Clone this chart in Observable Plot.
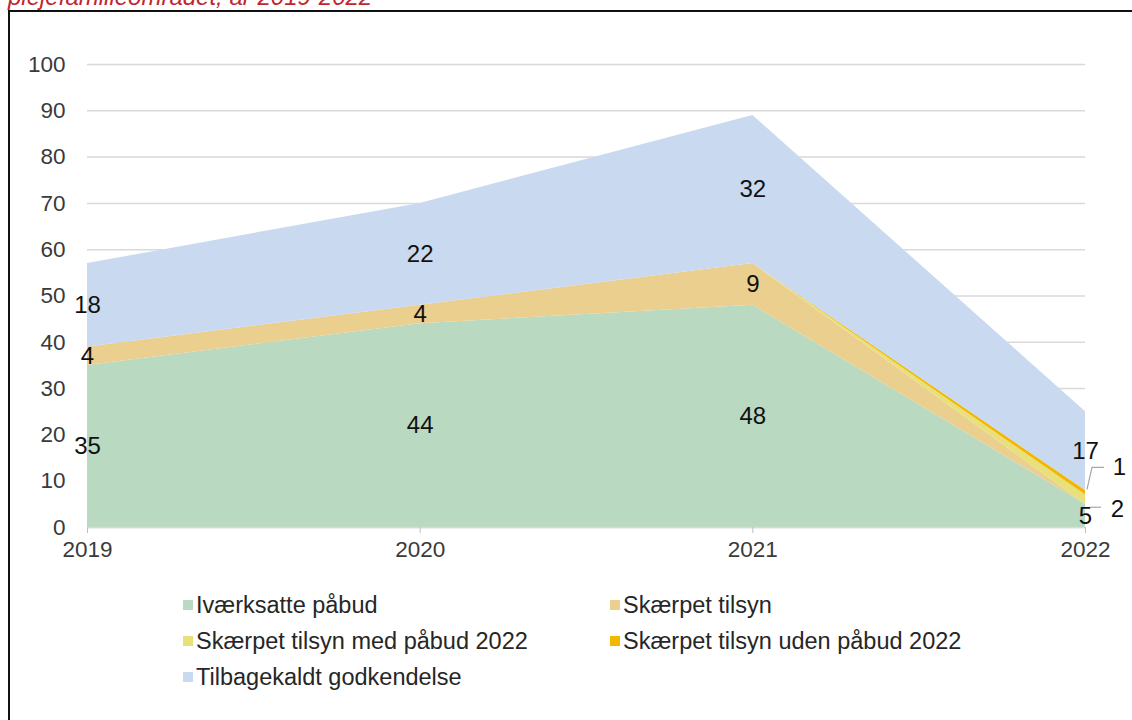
<!DOCTYPE html>
<html>
<head>
<meta charset="utf-8">
<script src="https://cdn.jsdelivr.net/npm/d3@7"></script>
<script src="https://cdn.jsdelivr.net/npm/@observablehq/plot@0.6"></script>
<style>
  html, body { margin: 0; padding: 0; background: #fff; }
  body { width: 1132px; height: 720px; position: relative; overflow: hidden; font-family: "Liberation Sans", Arial, sans-serif; }
  #title { position: absolute; left: 8px; top: -15px; color: #c0262d; font-style: italic; font-size: 24px; line-height: 24px; white-space: nowrap; }
  #chart { position: absolute; left: 0; top: 0; }
  #frame { position: absolute; left: 8px; top: 10px; width: 1140px; height: 730px; border: 2px solid #111; box-sizing: border-box; pointer-events: none; z-index: 5; }
  #legend { position: absolute; left: 183px; top: 587px; display: grid; grid-template-columns: 427px auto; grid-auto-rows: 36px; font-size: 23.5px; color: #262626; z-index: 3; }
  .item { display: flex; align-items: center; white-space: nowrap; }
  .sw { width: 10px; height: 10px; margin-right: 3px; flex: none; }
</style>
</head>
<body>
<div id="title">plejefamilieområdet, år 2019-2022</div>
<div id="chart"></div>
<div id="legend"></div>
<div id="frame"></div>
<script>
const years = [2019, 2020, 2021, 2022];
const seriesNames = [
  "Iværksatte påbud",
  "Skærpet tilsyn",
  "Skærpet tilsyn med påbud 2022",
  "Skærpet tilsyn uden påbud 2022",
  "Tilbagekaldt godkendelse"
];
const ivaerksattePaabud = [35, 44, 48, 5];
const skaerpetTilsyn = [4, 4, 9, 0];
const skaerpetMedPaabud = [0, 0, 0, 2];
const skaerpetUdenPaabud = [0, 0, 0, 1];
const tilbagekaldt = [18, 22, 32, 17];
const seriesColors = ["#bad9c1", "#eacf8e", "#e8e07a", "#f3b700", "#c9d9ef"];
const yTicks = [0, 10, 20, 30, 40, 50, 60, 70, 80, 90, 100];

const seriesValues = [ivaerksattePaabud, skaerpetTilsyn, skaerpetMedPaabud, skaerpetUdenPaabud, tilbagekaldt];
const data = seriesNames.flatMap((s, i) => years.map((yr, j) => ({series: s, year: yr, value: seriesValues[i][j]})));

const smallSeries = [seriesNames[2], seriesNames[3]];
const stackOpts = {x: "year", y: "value", z: "series", order: seriesNames};

// leader lines for the small 2022 labels, positioned through the scales
function leaders(index, scales) {
  const g = d3.create("svg:g").attr("fill", "none").attr("stroke", "#a6a6a6").attr("stroke-width", 1.2);
  const x0 = scales.x(2022);
  const udenMid = ivaerksattePaabud[3] + skaerpetTilsyn[3] + skaerpetMedPaabud[3] + skaerpetUdenPaabud[3] / 2;
  const medMid = ivaerksattePaabud[3] + skaerpetTilsyn[3] + skaerpetMedPaabud[3] / 2;
  const yu = scales.y(udenMid), ym = scales.y(medMid);
  g.append("path").attr("d", `M${x0 + 2},${yu - 3}L${x0 + 7},${yu - 25}L${x0 + 19},${yu - 25}`);
  g.append("path").attr("d", `M${x0 + 5},${ym + 8}L${x0 + 16},${ym + 8}`);
  return g.node();
}

const plot = Plot.plot({
  width: 1132,
  height: 580,
  marginLeft: 87,
  marginRight: 47,
  marginTop: 64,
  marginBottom: 53,
  style: {background: "transparent", fontFamily: "'Liberation Sans', Arial, sans-serif"},
  x: {type: "linear", domain: [2019, 2022]},
  y: {domain: [0, 100]},
  color: {domain: seriesNames, range: seriesColors},
  marks: [
    Plot.gridY(yTicks, {stroke: "#d9d9d9", strokeOpacity: 1, strokeWidth: 1.5}),
    Plot.areaY(data, {...stackOpts, fill: "series", curve: "linear"}),
    Plot.ruleY([0], {stroke: "#d9d9d9", strokeWidth: 1.5}),
    Plot.axisY(yTicks, {tickSize: 0, tickPadding: 22, fontSize: 22.5, color: "#3a3a3a", label: null}),
    Plot.axisX(years, {tickSize: 6, tickPadding: 8, fontSize: 22.5, color: "#3a3a3a", stroke: "#bfbfbf", tickFormat: d => String(d), label: null}),
    Plot.text(data, Plot.stackY({...stackOpts,
      text: d => (d.value > 0 && !smallSeries.includes(d.series)) ? String(d.value) : "",
      fontSize: 24, fill: "#111"})),
    Plot.text(data, Plot.stackY({...stackOpts,
      text: d => (d.series === seriesNames[3] && d.value > 0) ? String(d.value) : "",
      dx: 34, dy: -25, fontSize: 24, fill: "#111"})),
    Plot.text(data, Plot.stackY({...stackOpts,
      text: d => (d.series === seriesNames[2] && d.value > 0) ? String(d.value) : "",
      dx: 32, dy: 10, fontSize: 24, fill: "#111"})),
    leaders
  ]
});
document.getElementById("chart").appendChild(plot);

const legend = document.getElementById("legend");
seriesNames.forEach((s, i) => {
  const item = document.createElement("div");
  item.className = "item";
  const sw = document.createElement("span");
  sw.className = "sw";
  sw.style.background = seriesColors[i];
  const t = document.createElement("span");
  t.textContent = s;
  item.appendChild(sw);
  item.appendChild(t);
  legend.appendChild(item);
});
</script>
</body>
</html>
